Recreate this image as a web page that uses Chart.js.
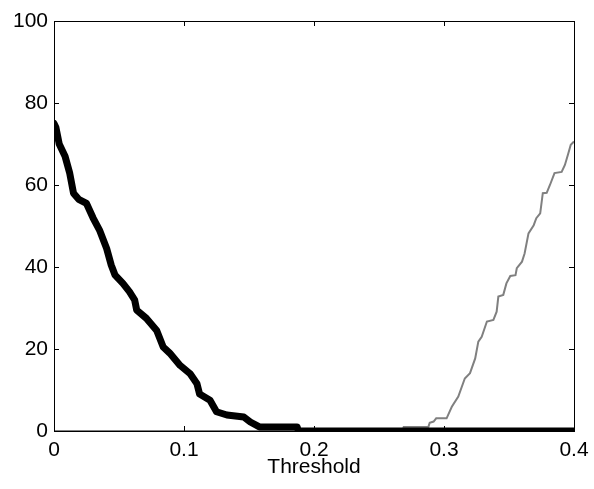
<!DOCTYPE html>
<html>
<head>
<meta charset="utf-8">
<script src="https://cdn.jsdelivr.net/npm/chart.js@4.4.0/dist/chart.umd.min.js"></script>
<style>
  html, body { margin: 0; padding: 0; background: #fff; }
  #wrap { width: 594px; height: 489px; }
</style>
</head>
<body>
<div id="wrap"><canvas id="thresholdChart" width="594" height="489"></canvas></div>
<script>
/* ======= Data ====== */
const blackX = [0, 0.0015, 0.004, 0.0085, 0.012, 0.015, 0.019, 0.025, 0.030, 0.035, 0.0405, 0.044, 0.047, 0.053, 0.058, 0.062, 0.0636, 0.071, 0.079, 0.084, 0.089, 0.097, 0.1046, 0.11, 0.112, 0.12, 0.125, 0.133, 0.146, 0.151, 0.158, 0.187, 0.188, 0.4];
const blackY = [75, 74, 70, 67, 63, 58, 56.5, 55.5, 52, 49, 44.5, 40.5, 38, 36, 34, 32, 29.5, 27.5, 24.5, 20.5, 19, 16, 14, 11.5, 9, 7.5, 4.7, 3.9, 3.4, 2.2, 1, 1, 0, 0];

const grayX = [0, 0.268, 0.269, 0.288, 0.289, 0.292, 0.294, 0.302, 0.306, 0.311, 0.316, 0.32, 0.324, 0.3264, 0.329, 0.333, 0.338, 0.3405, 0.3418, 0.3456, 0.348, 0.351, 0.355, 0.356, 0.36, 0.362, 0.365, 0.369, 0.371, 0.374, 0.376, 0.379, 0.3815, 0.385, 0.3905, 0.393, 0.3956, 0.3975, 0.4];
const grayY = [0, 0, 1, 1, 2, 2.3, 3.1, 3.1, 5.9, 8.4, 12.8, 14.1, 17.7, 21.8, 23, 26.7, 27.1, 29.1, 32.8, 33.2, 36, 37.8, 38, 39.7, 41.3, 43.3, 48.2, 50.2, 51.9, 53.1, 58, 58.1, 60, 62.9, 63.2, 64.9, 67.7, 69.8, 70.6];

const xTicks = [0, 0.1, 0.2, 0.3, 0.4];
const yTicks = [0, 20, 40, 60, 80, 100];

function toPoints(xs, ys) {
  return xs.map(function (x, i) { return { x: x, y: ys[i] }; });
}

/* box round the plot with inward ticks, matlab style */
const axesBox = {
  id: 'axesBox',
  afterDatasetsDraw(chart) {
    const ctx = chart.ctx;
    const a = chart.chartArea;
    const xs = chart.scales.x;
    const ys = chart.scales.y;
    const len = 5;
    ctx.save();
    ctx.strokeStyle = '#000';
    ctx.lineWidth = 1;
    ctx.beginPath();
    xTicks.forEach(function (v) {
      const px = Math.round(xs.getPixelForValue(v)) + 0.5;
      ctx.moveTo(px, a.bottom);
      ctx.lineTo(px, a.bottom - len);
      ctx.moveTo(px, a.top);
      ctx.lineTo(px, a.top + len);
    });
    yTicks.forEach(function (v) {
      const py = Math.round(ys.getPixelForValue(v)) + 0.5;
      ctx.moveTo(a.left, py);
      ctx.lineTo(a.left + len, py);
      ctx.moveTo(a.right, py);
      ctx.lineTo(a.right - len, py);
    });
    ctx.stroke();
    ctx.strokeRect(Math.round(a.left) + 0.5, Math.round(a.top) + 0.5,
      Math.round(a.right - a.left), Math.round(a.bottom - a.top));
    ctx.restore();
  }
};

const font = { family: "'Liberation Sans', Arial, Helvetica, sans-serif", size: 21 };

const ctx = document.getElementById('thresholdChart');
new Chart(ctx, {
  type: 'line',
  data: {
    datasets: [{
      data: toPoints(blackX, blackY),
      borderColor: '#000000',
      borderWidth: 7,
      pointRadius: 0,
      tension: 0,
      clip: 0,
      order: 0,
      borderJoinStyle: 'round',
      borderCapStyle: 'round',
    }, {
      data: toPoints(grayX, grayY),
      borderColor: '#808080',
      borderWidth: 2,
      pointRadius: 0,
      tension: 0,
      clip: 0,
      order: 1,
    }],
  },
  options: {
    responsive: false,
    animation: false,
    events: [],
    layout: {
      padding: { left: 0, right: 20, top: 21, bottom: 0 }
    },
    plugins: {
      legend: { display: false },
      tooltip: { enabled: false },
    },
    scales: {
      x: {
        type: 'linear',
        min: 0,
        max: 0.4,
        afterBuildTicks(scale) {
          scale.ticks = xTicks.map(function (v) { return { value: v }; });
        },
        afterFit(scale) {
          scale.height = 58;
          scale.paddingLeft = 0;
          scale.paddingRight = 0;
        },
        grid: { display: false, drawTicks: false },
        border: { display: false },
        ticks: {
          color: '#000',
          font: font,
          padding: 7,
          maxRotation: 0,
          callback: function (value) { return String(+value.toFixed(1)); },
        },
        title: {
          display: true,
          text: 'Threshold',
          color: '#000',
          font: font,
          padding: { top: 0, bottom: 9 },
        },
      },
      y: {
        type: 'linear',
        min: 0,
        max: 100,
        afterBuildTicks(scale) {
          scale.ticks = yTicks.map(function (v) { return { value: v }; });
        },
        afterFit(scale) {
          scale.width = 54;
          scale.paddingTop = 0;
          scale.paddingBottom = 0;
        },
        grid: { display: false, drawTicks: false },
        border: { display: false },
        ticks: {
          color: '#000',
          font: font,
          padding: 6,
        },
      },
    },
  },
  plugins: [axesBox],
});
</script>
</body>
</html>
